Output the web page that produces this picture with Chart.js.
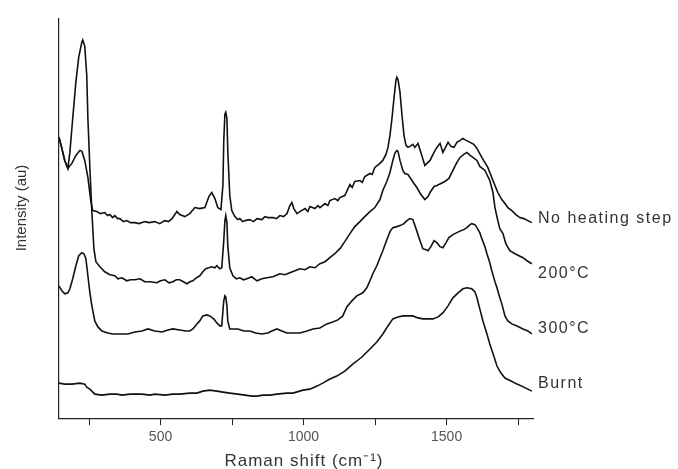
<!DOCTYPE html>
<html>
<head>
<meta charset="utf-8">
<script src="https://cdn.jsdelivr.net/npm/chart.js@4.4.0/dist/chart.umd.min.js"></script>
<style>
  body { margin: 0; background: #fff; }
  #wrap { width: 678px; height: 469px; }
</style>
</head>
<body>
<div id="wrap"><canvas id="ramanChart" width="678" height="469"></canvas></div>
<script>
// Raman shift (cm-1) and intensity (au, offset curves)
var noHeatX = [145,155,165,176,190,204,218,225,235,246,256,263,277,290,305,315,323,332,340,350,358,370,382,395,410,425,445,460,480,497,515,528,540,557,567,585,602,620,637,655,669,679,690,700,711,718,721,725,728,732,735,742,749,760,770,777,787,795,812,825,837,854,865,875,893,905,917,930,942,952,959,966,977,987,1005,1015,1022,1040,1050,1057,1075,1085,1092,1109,1120,1127,1144,1162,1170,1179,1197,1205,1214,1232,1240,1249,1263,1277,1288,1295,1302,1309,1316,1323,1326,1330,1337,1344,1351,1358,1365,1372,1382,1389,1400,1410,1424,1435,1442,1456,1466,1477,1487,1498,1505,1515,1526,1536,1547,1557,1568,1582,1595,1606,1623,1644,1662,1679,1693,1704,1714,1728,1742,1756,1770,1784,1798];
var noHeatY = [280,269,257,249,254,262,267,266,257,240,217,207,206,204,205,202,203,200,202,199,199,196,197,195,195,194,196,195,196,194,197,196,199,206,203,201,204,210,209,210,221,225,219,210,208,232,277,303,305,299,267,222,207,201,198,199,196,197,198,196,199,198,201,200,200,199,202,201,204,212,215,209,204,206,209,206,211,209,212,210,214,212,217,219,217,220,222,233,230,236,237,235,241,244,243,250,253,257,263,270,282,299,319,337,340,338,325,302,282,272,270,271,273,270,274,265,252,255,257,265,270,274,265,271,275,271,270,275,277,279,277,275,273,269,260,250,237,225,218,214,210,207,203,200,199,197,195];

var heat200X = [145,155,165,176,183,193,204,214,225,228,235,242,246,253,260,267,274,288,305,323,340,351,365,382,395,410,428,445,463,487,500,515,530,543,555,567,580,592,603,613,625,637,648,658,669,679,690,697,707,714,721,725,728,732,735,742,753,765,777,790,802,819,837,854,872,893,917,935,952,970,987,1005,1022,1040,1057,1075,1092,1109,1127,1144,1162,1179,1197,1214,1232,1249,1267,1277,1291,1302,1312,1319,1326,1330,1337,1347,1354,1365,1372,1386,1396,1410,1424,1435,1442,1456,1466,1480,1494,1508,1522,1536,1547,1560,1571,1582,1592,1606,1616,1634,1651,1662,1669,1679,1686,1697,1707,1721,1739,1753,1767,1781,1798];
var heat200Y = [280,269,257,249,265,299,335,360,375,377,371,342,299,249,205,169,156,151,146,143,142,139,140,137,138,138,139,136,136,135,137,138,135,136,138,138,136,134,136,137,140,142,146,149,150,151,150,152,149,150,177,197,202,195,172,150,142,139,140,138,139,141,137,139,140,141,144,143,145,147,149,148,151,150,154,156,160,164,169,176,184,191,196,201,206,210,218,227,236,245,257,264,267,266,257,247,244,243,240,234,230,223,218,221,225,231,232,234,236,239,247,255,260,263,265,262,260,257,251,247,237,225,210,197,189,184,174,167,164,162,160,157,154];

var heat300X = [145,155,165,176,183,193,204,214,225,232,239,246,253,260,270,281,295,316,333,358,386,410,435,456,480,505,526,543,567,588,602,613,627,637,648,662,672,686,697,707,714,718,721,725,728,732,735,742,756,770,791,812,833,854,875,889,907,924,942,963,987,1012,1033,1057,1081,1102,1120,1137,1151,1169,1186,1207,1221,1232,1242,1256,1267,1277,1291,1302,1312,1326,1337,1351,1361,1372,1382,1393,1407,1417,1428,1435,1445,1456,1466,1477,1487,1498,1508,1522,1536,1550,1560,1571,1582,1588,1599,1606,1616,1623,1634,1641,1651,1658,1669,1676,1686,1693,1704,1714,1728,1746,1767,1784,1798];
var heat300Y = [132,127,124,125,129,139,152,162,165,164,159,142,125,112,97,91,87,85,84,84,84,86,87,89,87,86,88,89,88,87,87,89,94,97,102,103,102,99,95,92,92,107,117,122,121,112,97,89,89,89,87,87,85,84,85,87,89,87,85,85,85,87,89,90,94,96,98,102,111,117,122,125,130,137,144,152,160,167,178,186,190,191,192,194,197,199,198,189,177,169,168,167,171,177,175,171,170,175,180,183,185,187,188,190,193,194,193,190,185,179,171,164,155,147,136,130,120,114,102,97,94,92,89,87,84];

var burntX = [145,165,190,218,235,242,253,270,295,323,347,365,393,435,463,480,515,543,567,602,627,648,672,697,718,742,770,795,819,837,858,882,907,942,963,998,1022,1047,1067,1092,1116,1144,1172,1204,1232,1256,1277,1295,1312,1330,1347,1365,1382,1400,1417,1435,1452,1470,1487,1505,1522,1540,1557,1571,1588,1599,1606,1616,1627,1641,1651,1665,1676,1690,1704,1725,1746,1770,1798];
var burntY = [35,34,34,35,34,31,29,24,23,24,24,23,24,24,23,24,23,24,24,25,25,27,28,27,26,25,24,23,22,22,23,23,24,25,25,28,29,32,35,39,42,47,54,61,69,76,84,92,99,101,102,102,102,100,99,99,99,101,105,112,120,125,129,130,129,126,120,109,97,84,74,62,52,45,40,37,34,31,27];

// curve names written at the right end, and the intensity they sit at
var curveNames = ['No heating step', '200°C', '300°C', 'Burnt'];
var nameLevels = [199, 144, 89, 35];

// x axis ticks
var tickValues = [250, 500, 750, 1000, 1250, 1500, 1750];
var tickLabels = [500, 1000, 1500];

function toPoints(xs, ys) {
    var pts = [];
    for (var i = 0; i < xs.length; i++) {
        pts.push({x: xs[i], y: ys[i]});
    }
    return pts;
}

function lineSet(xs, ys) {
    return {
        data: toPoints(xs, ys),
        borderColor: '#111',
        borderWidth: 1.6,
        pointRadius: 0,
        tension: 0,
        fill: false
    };
}

// draws the curve names and the two axis titles
var textPlugin = {
    id: 'ramanText',
    afterDraw: function(chart) {
        var ctx = chart.ctx;
        var area = chart.chartArea;
        var yScale = chart.scales.y;
        ctx.save();
        ctx.fillStyle = '#333';
        ctx.textBaseline = 'middle';
        ctx.textAlign = 'left';
        ctx.font = '16px "Liberation Sans", Arial, sans-serif';
        ctx.letterSpacing = '1.5px';
        for (var i = 0; i < curveNames.length; i++) {
            ctx.fillText(curveNames[i], area.right + 5, yScale.getPixelForValue(nameLevels[i]));
        }

        ctx.textAlign = 'center';
        ctx.font = '17px "Liberation Sans", Arial, sans-serif';
        ctx.letterSpacing = '1px';
        ctx.fillText('Raman shift (cm⁻¹)', (area.left + area.right) / 2 + 8, 461);

        ctx.font = '15px "Liberation Sans", Arial, sans-serif';
        ctx.letterSpacing = '0px';
        ctx.translate(22, 208);
        ctx.rotate(-Math.PI / 2);
        ctx.fillText('Intensity (au)', 0, 0);
        ctx.restore();
    }
};

var ctx = document.getElementById('ramanChart').getContext('2d');

var ramanChart = new Chart(ctx, {
    type: 'line',
    data: {
        datasets: [
            lineSet(noHeatX, noHeatY),
            lineSet(heat200X, heat200Y),
            lineSet(heat300X, heat300Y),
            lineSet(burntX, burntY)
        ]
    },
    options: {
        responsive: false,
        animation: false,
        layout: {
            padding: {left: 59, right: 145, top: 19, bottom: 19}
        },
        plugins: {
            legend: {display: false},
            tooltip: {enabled: false}
        },
        scales: {
            x: {
                type: 'linear',
                min: 145,
                max: 1802,
                afterBuildTicks: function(scale) {
                    scale.ticks = tickValues.map(function(v) { return {value: v}; });
                },
                grid: {
                    drawOnChartArea: false,
                    drawTicks: true,
                    tickLength: 7,
                    tickColor: '#222'
                },
                border: {display: true, color: '#222', width: 1.2},
                ticks: {
                    autoSkip: false,
                    maxRotation: 0,
                    padding: 4,
                    color: '#555',
                    font: {family: '"Liberation Sans", Arial, sans-serif', size: 14},
                    callback: function(value) {
                        return tickLabels.indexOf(value) >= 0 ? String(value) : '';
                    }
                }
            },
            y: {
                type: 'linear',
                min: 0,
                max: 398,
                grid: {display: false, drawTicks: false},
                border: {display: true, color: '#222', width: 1.2},
                ticks: {display: false}
            }
        }
    },
    plugins: [textPlugin]
});
</script>
</body>
</html>
